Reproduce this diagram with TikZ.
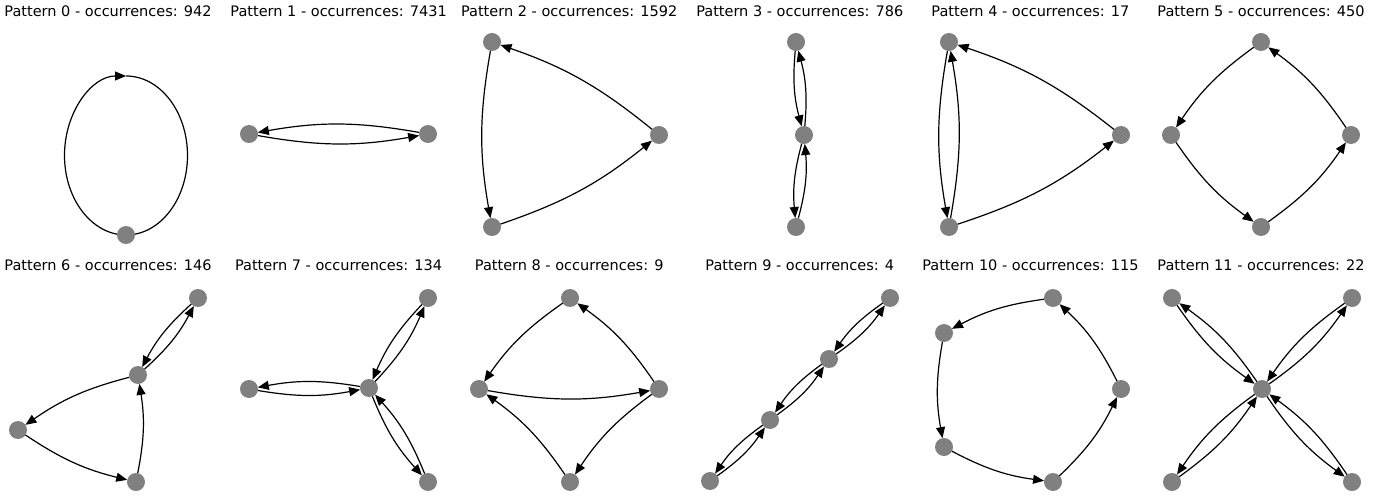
\documentclass[tikz,border=0pt]{standalone}
\usepackage{fontspec}
\setmainfont{DejaVu Sans}
\usetikzlibrary{arrows.meta}
\usetikzlibrary{backgrounds}

\begin{document}
\begin{tikzpicture}[
  x=1pt, y=1pt,
  vertex/.style = {
    circle,
    fill = gray,
    minimum size = 18pt,
    inner sep = 0pt,
    outer sep = 0pt,
  },
  title/.style = {
    anchor = base,
    inner sep = 0pt,
    font = \fontsize{14.5}{17}\selectfont,
  },
  link/.style = {
    ->,
    line width = 1.2pt,
  },
  >={Triangle[length=11pt,width=9pt]},
]
  \useasboundingbox (0,0) rectangle (1385,-497);

  % top row
  \node[title] (t0) at (108,-17) {Pattern 0 - occurrences: 942};
  \node[title] (t1) at (338.6,-17) {Pattern 1 - occurrences: 7431};
  \node[title] (t2) at (569.2,-17) {Pattern 2 - occurrences: 1592};
  \node[title] (t3) at (799.8,-17) {Pattern 3 - occurrences: 786};
  \node[title] (t4) at (1030.4,-17) {Pattern 4 - occurrences: 17};
  \node[title] (t5) at (1261,-17) {Pattern 5 - occurrences: 450};

  % bottom row
  \node[title] (t6) at (108,-271) {Pattern 6 - occurrences: 146};
  \node[title] (t7) at (338.6,-271) {Pattern 7 - occurrences: 134};
  \node[title] (t8) at (569.2,-271) {Pattern 8 - occurrences: 9};
  \node[title] (t9) at (799.8,-271) {Pattern 9 - occurrences: 4};
  \node[title] (t10) at (1030.4,-271) {Pattern 10 - occurrences: 115};
  \node[title] (t11) at (1261,-271) {Pattern 11 - occurrences: 22};

  % pattern 0
  \node[vertex] (p01) at (126,-235) {};
  \begin{scope}[on background layer]
    \draw[link] (p01.center) arc[start angle=270, end angle=90, x radius=61.5, y radius=79.5];
    \draw[link,-] (p01.center) arc[start angle=-90, end angle=90, x radius=61.5, y radius=79.5];
  \end{scope}

  % pattern 1
  \node[vertex] (p11) at (249,-134) {};
  \node[vertex] (p12) at (428,-134) {};
  \path[link] (p11) edge[bend right=10] (p12);
  \path[link] (p12) edge[bend right=10] (p11);

  % pattern 2
  \node[vertex] (p21) at (492,-42) {};
  \node[vertex] (p22) at (659,-135) {};
  \node[vertex] (p23) at (492,-227) {};
  \path[link] (p21) edge[bend right=10] (p23);
  \path[link] (p23) edge[bend right=10] (p22);
  \path[link] (p22) edge[bend right=10] (p21);

  % pattern 3
  \node[vertex] (p31) at (796,-42) {};
  \node[vertex] (p32) at (804,-135) {};
  \node[vertex] (p33) at (796,-227) {};
  \path[link] (p31) edge[bend right=10] (p32);
  \path[link] (p32) edge[bend right=10] (p31);
  \path[link] (p32) edge[bend right=10] (p33);
  \path[link] (p33) edge[bend right=10] (p32);

  % pattern 4
  \node[vertex] (p41) at (949,-42) {};
  \node[vertex] (p42) at (1121,-135) {};
  \node[vertex] (p43) at (949,-227) {};
  \path[link] (p41) edge[bend right=10] (p43);
  \path[link] (p43) edge[bend right=10] (p41);
  \path[link] (p43) edge[bend right=10] (p42);
  \path[link] (p42) edge[bend right=10] (p41);

  % pattern 5
  \node[vertex] (p51) at (1261,-42) {};
  \node[vertex] (p52) at (1171,-135) {};
  \node[vertex] (p53) at (1351,-135) {};
  \node[vertex] (p54) at (1261,-227) {};
  \path[link] (p51) edge[bend right=10] (p52);
  \path[link] (p52) edge[bend right=10] (p54);
  \path[link] (p54) edge[bend right=10] (p53);
  \path[link] (p53) edge[bend right=10] (p51);

  % pattern 6
  \node[vertex] (p61) at (198,-298) {};
  \node[vertex] (p62) at (138,-375) {};
  \node[vertex] (p63) at (18,-430) {};
  \node[vertex] (p64) at (136,-482) {};
  \path[link] (p61) edge[bend right=10] (p62);
  \path[link] (p62) edge[bend right=10] (p61);
  \path[link] (p62) edge[bend right=10] (p63);
  \path[link] (p63) edge[bend right=10] (p64);
  \path[link] (p64) edge[bend right=10] (p62);

  % pattern 7
  \node[vertex] (p71) at (428,-298) {};
  \node[vertex] (p72) at (369,-388) {};
  \node[vertex] (p73) at (249,-389) {};
  \node[vertex] (p74) at (428,-482) {};
  \path[link] (p72) edge[bend right=10] (p71);
  \path[link] (p71) edge[bend right=10] (p72);
  \path[link] (p72) edge[bend right=10] (p73);
  \path[link] (p73) edge[bend right=10] (p72);
  \path[link] (p72) edge[bend right=10] (p74);
  \path[link] (p74) edge[bend right=10] (p72);

  % pattern 8
  \node[vertex] (p81) at (570,-298) {};
  \node[vertex] (p82) at (479,-389) {};
  \node[vertex] (p83) at (659,-389) {};
  \node[vertex] (p84) at (570,-482) {};
  \path[link] (p81) edge[bend right=10] (p82);
  \path[link] (p82) edge[bend right=10] (p83);
  \path[link] (p83) edge[bend right=10] (p81);
  \path[link] (p83) edge[bend right=10] (p84);
  \path[link] (p84) edge[bend right=10] (p82);

  % pattern 9
  \node[vertex] (p91) at (890,-298) {};
  \node[vertex] (p92) at (829,-359) {};
  \node[vertex] (p93) at (770,-420) {};
  \node[vertex] (p94) at (710,-481) {};
  \path[link] (p91) edge[bend right=10] (p92);
  \path[link] (p92) edge[bend right=10] (p91);
  \path[link] (p92) edge[bend right=10] (p93);
  \path[link] (p93) edge[bend right=10] (p92);
  \path[link] (p93) edge[bend right=10] (p94);
  \path[link] (p94) edge[bend right=10] (p93);

  % pattern 10
  \node[vertex] (p101) at (1053,-298) {};
  \node[vertex] (p102) at (944,-333) {};
  \node[vertex] (p103) at (1121,-389) {};
  \node[vertex] (p104) at (944,-447) {};
  \node[vertex] (p105) at (1053,-482) {};
  \path[link] (p101) edge[bend right=10] (p102);
  \path[link] (p102) edge[bend right=10] (p104);
  \path[link] (p104) edge[bend right=10] (p105);
  \path[link] (p105) edge[bend right=10] (p103);
  \path[link] (p103) edge[bend right=10] (p101);

  % pattern 11
  \node[vertex] (p111) at (1262,-389) {};
  \node[vertex] (p112) at (1172,-298) {};
  \node[vertex] (p113) at (1352,-298) {};
  \node[vertex] (p114) at (1172,-482) {};
  \node[vertex] (p115) at (1352,-482) {};
  \path[link] (p111) edge[bend right=10] (p112);
  \path[link] (p112) edge[bend right=10] (p111);
  \path[link] (p111) edge[bend right=10] (p113);
  \path[link] (p113) edge[bend right=10] (p111);
  \path[link] (p111) edge[bend right=10] (p114);
  \path[link] (p114) edge[bend right=10] (p111);
  \path[link] (p111) edge[bend right=10] (p115);
  \path[link] (p115) edge[bend right=10] (p111);
\end{tikzpicture}
\end{document}
